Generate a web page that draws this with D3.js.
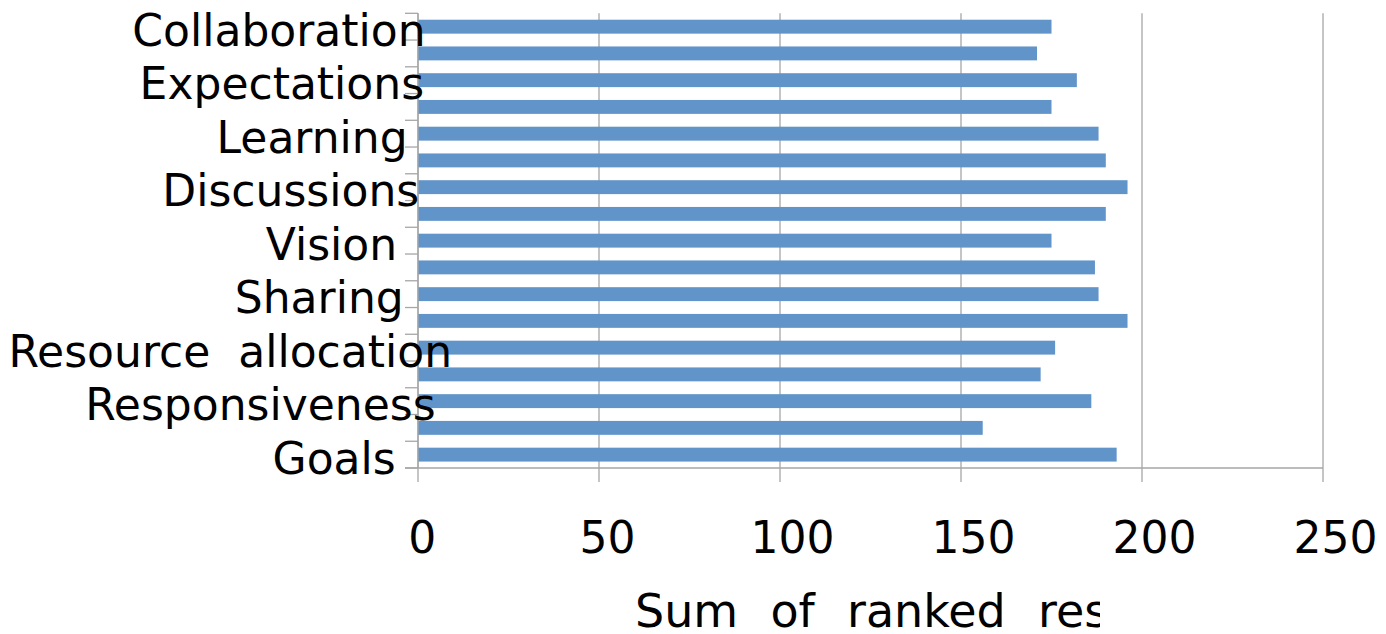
<!DOCTYPE html>
<html>
<head>
<meta charset="utf-8">
<script src="https://cdn.jsdelivr.net/npm/d3@7/dist/d3.min.js"></script>
<style>
  html, body { margin: 0; padding: 0; background: #fff; }
  svg { display: block; }
  text { font-family: "DejaVu Sans", sans-serif; fill: #000; }
</style>
</head>
<body>
<svg id="chart" width="1386" height="634"></svg>
<script>
// ---- data (top to bottom) ----
const categoryLabels = ["Collaboration", "", "Expectations", "", "Learning", "", "Discussions", "",
  "Vision", "", "Sharing", "", "Resource  allocation", "", "Responsiveness", "", "Goals"];
const values = [175, 171, 182, 175, 188, 190, 196, 190, 175, 187, 188, 196, 176, 172, 186, 156, 193];
const xTicks = [0, 50, 100, 150, 200, 250];
const axisTitle = "Sum  of  ranked  res";

// ---- layout ----
const W = 1386, H = 634;
const plotL = 418, plotR = 1323, plotT = 13.3, plotB = 468;
const svg = d3.select("#chart");
const gridColor = "#a6a6a6";
const barColor = "#6194c9";

const x = d3.scaleLinear().domain([0, 250]).range([plotL, plotR]);
const y = d3.scaleBand().domain(d3.range(values.length)).range([plotT, plotB])
  .paddingInner(0.48).paddingOuter(0.24);
const step = y.step();

// vertical gridlines + tick stubs below axis
svg.append("g").selectAll("line").data(xTicks).join("line")
  .attr("x1", d => x(d)).attr("x2", d => x(d))
  .attr("y1", plotT).attr("y2", plotB + 14)
  .attr("stroke", gridColor).attr("stroke-width", 1.3);

// category tick marks (band boundaries)
const bounds = d3.range(values.length + 1).map(i => plotT + i * step);
svg.append("g").selectAll("line").data(bounds).join("line")
  .attr("x1", plotL - 13).attr("x2", plotL)
  .attr("y1", d => d).attr("y2", d => d)
  .attr("stroke", gridColor).attr("stroke-width", 1.3);

// x axis line
svg.append("line").attr("x1", plotL - 13).attr("x2", plotR)
  .attr("y1", plotB).attr("y2", plotB)
  .attr("stroke", gridColor).attr("stroke-width", 1.3);

// bars
svg.append("g").selectAll("rect").data(values).join("rect")
  .attr("x", x(0)).attr("y", (d, i) => y(i))
  .attr("width", d => x(d) - x(0)).attr("height", y.bandwidth())
  .attr("fill", barColor);

// y axis line
svg.append("line").attr("x1", plotL).attr("x2", plotL)
  .attr("y1", plotT).attr("y2", plotB)
  .attr("stroke", gridColor).attr("stroke-width", 1.3);

// category labels
const labG = svg.append("g");
categoryLabels.forEach((lab, i) => {
  if (!lab) return;
  const t = labG.append("text")
    .attr("font-size", 44)
    .attr("style", "white-space: pre")
    .attr("y", y(i) + y.bandwidth() / 2 + 19)
    .text(lab);
  const w = t.node().getComputedTextLength();
  t.attr("x", plotL - 44 - 0.824 * w);
});

// x tick labels
const tG = svg.append("g");
xTicks.forEach(v => {
  const t = tG.append("text").attr("font-size", 44)
    .attr("text-anchor", "middle")
    .attr("y", 553).text(String(v));
  const w = t.node().getComputedTextLength();
  t.attr("x", x(v) + 0.15 * w);
});

// axis title (clipped at the right, as in the reference)
svg.append("clipPath").attr("id", "tclip").append("rect")
  .attr("x", 0).attr("y", 0).attr("width", 1100).attr("height", H);
svg.append("text").attr("font-size", 46)
  .attr("style", "white-space: pre; word-spacing: 1.5px")
  .attr("clip-path", "url(#tclip)")
  .attr("x", 635).attr("y", 627).text(axisTitle);
</script>
</body>
</html>
